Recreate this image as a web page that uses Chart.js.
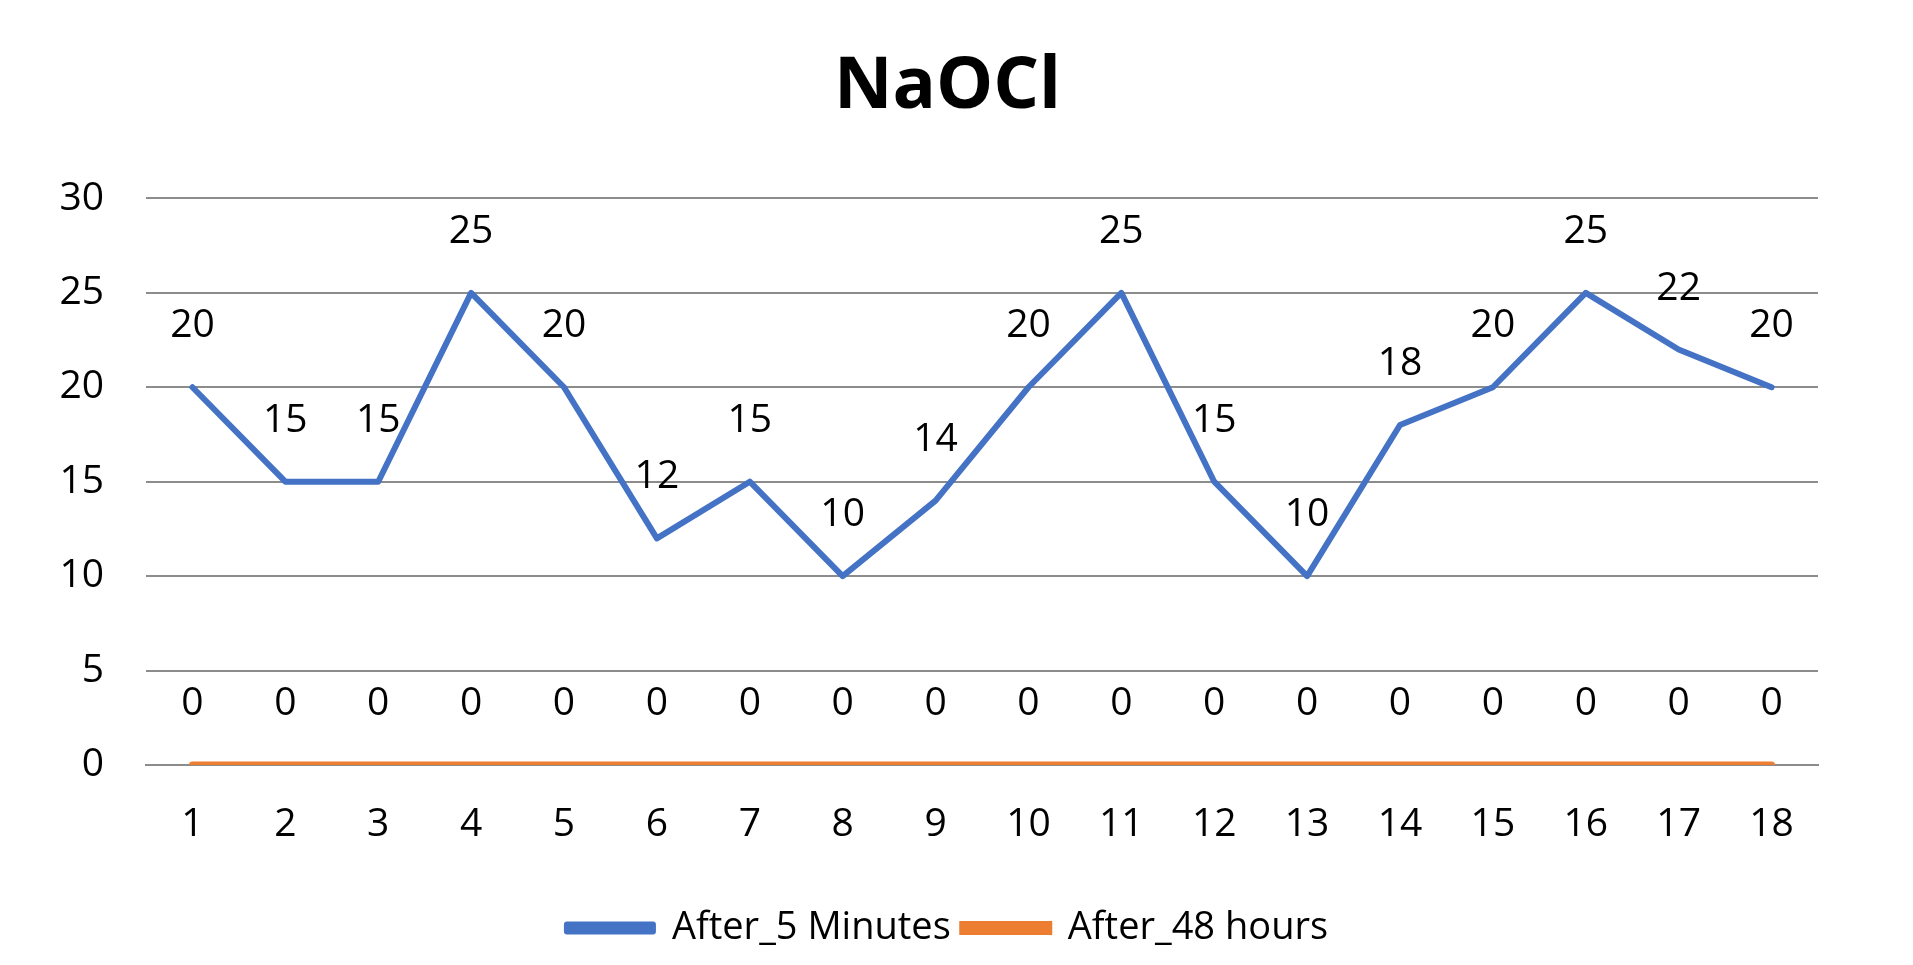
<!DOCTYPE html>
<html>
<head>
<meta charset="utf-8">
<title>NaOCl</title>
<script src="https://cdn.jsdelivr.net/npm/chart.js@4.4.1/dist/chart.umd.min.js"></script>
<style>
  html, body { margin: 0; padding: 0; background: #ffffff; }
  #wrap { width: 1913px; height: 965px; }
</style>
</head>
<body>
<div id="wrap"><canvas id="chart" width="1913" height="965"></canvas></div>
<script>
// ---- data ---------------------------------------------------------------
const categories = ["1", "2", "3", "4", "5", "6", "7", "8", "9", "10", "11", "12", "13", "14", "15", "16", "17", "18"];
const after5Minutes = [20, 15, 15, 25, 20, 12, 15, 10, 14, 20, 25, 15, 10, 18, 20, 25, 22, 20];
const after48Hours = [0, 0, 0, 0, 0, 0, 0, 0, 0, 0, 0, 0, 0, 0, 0, 0, 0, 0];
const yTicks = [0, 5, 10, 15, 20, 25, 30];

const FONT = "'Open Sans', 'Noto Sans', sans-serif";
const BLUE = "#4472C4";
const ORANGE = "#ED7D31";
const GRID = "#8c8c8c";

// ---- value labels above each point --------------------------------------
const valueLabels = {
  id: "valueLabels",
  afterDatasetsDraw(chart) {
    const ctx = chart.ctx;
    ctx.save();
    ctx.font = `39px ${FONT}`;
    ctx.fillStyle = "#000000";
    ctx.textAlign = "center";
    ctx.textBaseline = "middle";
    chart.data.datasets.forEach((ds, i) => {
      const meta = chart.getDatasetMeta(i);
      meta.data.forEach((pt, j) => {
        ctx.fillText(String(ds.data[j]), pt.x, pt.y - 61);
      });
    });
    ctx.restore();
  },
};

Chart.defaults.font.family = FONT;
Chart.defaults.color = "#000000";

new Chart(document.getElementById("chart").getContext("2d"), {
  type: "line",
  data: {
    labels: categories,
    datasets: [
      {
        label: "After_5 Minutes",
        data: after5Minutes,
        borderColor: BLUE,
        backgroundColor: BLUE,
        borderWidth: 6,
        pointRadius: 0,
        borderCapStyle: "round",
        borderJoinStyle: "round",
        tension: 0,
      },
      {
        label: "After_48 hours",
        data: after48Hours,
        borderColor: ORANGE,
        backgroundColor: ORANGE,
        borderWidth: 7,
        pointRadius: 0,
        borderCapStyle: "round",
        tension: 0,
      },
    ],
  },
  options: {
    responsive: false,
    animation: false,
    devicePixelRatio: 1,
    layout: { padding: { top: 0, left: 0, right: 18, bottom: 8 } },
    plugins: {
      title: {
        display: true,
        text: "NaOCl",
        color: "#000000",
        font: { family: FONT, size: 72, weight: "bold", lineHeight: 1.2 },
        padding: { top: 44, bottom: 68 },
      },
      legend: {
        position: "bottom",
        labels: {
          font: { family: FONT, size: 38 },
          color: "#000000",
          boxWidth: 86,
          boxHeight: 7,
          padding: 12,
        },
      },
      tooltip: { enabled: false },
    },
    scales: {
      x: {
        offset: true,
        grid: { display: false, drawTicks: false },
        border: { display: true, color: GRID, width: 2 },
        ticks: { font: { family: FONT, size: 39 }, color: "#000000", padding: 36, maxRotation: 0 },
        afterFit(scale) { scale.height = 132; },
      },
      y: {
        min: 0,
        max: 30,
        afterBuildTicks(scale) { scale.ticks = yTicks.map((v) => ({ value: v })); },
        grid: { color: GRID, lineWidth: 2, drawTicks: false },
        border: { display: false },
        ticks: { font: { family: FONT, size: 39 }, color: "#000000", padding: 42 },
        afterFit(scale) { scale.width = 146; },
      },
      yRight: {
        position: "right",
        display: true,
        grid: { display: false, drawTicks: false },
        border: { display: false },
        ticks: { display: false },
        afterFit(scale) { scale.width = 77; },
      },
    },
  },
  plugins: [valueLabels],
});
</script>
</body>
</html>
